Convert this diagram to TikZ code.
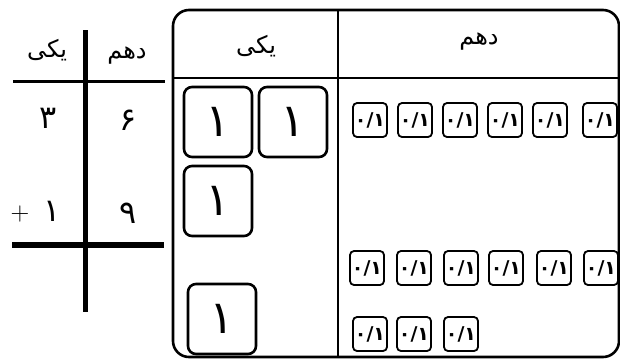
\documentclass[tikz,border=0pt]{standalone}
\usepackage{fontspec}
\TeXXeTstate=1
\newfontfamily\arabicfont[Script=Arabic]{DejaVu Sans}
\newcommand{\fa}[1]{{\arabicfont\beginR #1\endR}}
\tikzset{
  lbl/.style={inner sep=0pt, font=\arabicfont\fontsize{24}{26}\selectfont},
  dig/.style={inner sep=0pt, font=\arabicfont\fontsize{32}{34}\selectfont},
  onebox/.style={draw, line width=2.6pt, rounded corners=8pt, minimum width=68pt, minimum height=70pt, inner sep=0pt, font=\arabicfont\fontsize{46}{48}\selectfont},
  tenbox/.style={draw, line width=1.8pt, rounded corners=4pt, minimum width=34pt, minimum height=34pt, inner sep=0pt, font=\arabicfont\bfseries\fontsize{19}{20}\selectfont},
}
\begin{document}
\begin{tikzpicture}[x=1pt,y=-1pt]
\useasboundingbox (0,0) rectangle (620,360);
% left column table
\coordinate (vt) at (85,30);
\coordinate (vb) at (85,312);
\coordinate (h1l) at (13,81);
\coordinate (h1r) at (165,81);
\coordinate (h2l) at (12,245);
\coordinate (h2r) at (164,245);
\draw[line width=5pt] (vt) -- (vb);
\draw[line width=3pt] (h1l) -- (h1r);
\draw[line width=6pt] (h2l) -- (h2r);
\node[lbl] (lyek) at (47,50) {\fa{یکی}};
\node[lbl] (ldah) at (127,56) {\fa{دهم}};
\node[dig] (d3) at (48,118) {۳};
\node[dig] (d6) at (128,120) {۶};
\node[dig] (d1) at (52,211) {۱};
\node[dig] (d9) at (128,213) {۹};
\node[inner sep=0pt, font=\fontsize{26}{28}\selectfont] (plus) at (20,214) {+};
% right table
\draw[line width=2.6pt, rounded corners=16pt] (173,10) rectangle (619,357);
\coordinate (hl) at (173,78);
\coordinate (hr) at (619,78);
\coordinate (dt) at (338,10);
\coordinate (db) at (338,357);
\draw[line width=2.8pt] (hl) -- (hr);
\draw[line width=2.2pt] (dt) -- (db);
\node[lbl] (ryek) at (256,46) {\fa{یکی}};
\node[lbl] (rdah) at (479,42) {\fa{دهم}};
% ones
\node[onebox] (o1) at (218,122) {۱};
\node[onebox] (o2) at (293,122) {۱};
\node[onebox] (o3) at (218,201) {۱};
\node[onebox] (o4) at (222,319) {۱};
% tenths row 1
\foreach \x [count=\i] in {370,415,460,505,550,600}
  \node[tenbox] (t1\i) at (\x,120) {۰/۱};
% tenths row 2
\foreach \x [count=\i] in {367,414,461,506,554,601}
  \node[tenbox] (t2\i) at (\x,268) {۰/۱};
% tenths row 3
\foreach \x [count=\i] in {370,414,461}
  \node[tenbox] (t3\i) at (\x,334) {۰/۱};
\end{tikzpicture}
\end{document}
